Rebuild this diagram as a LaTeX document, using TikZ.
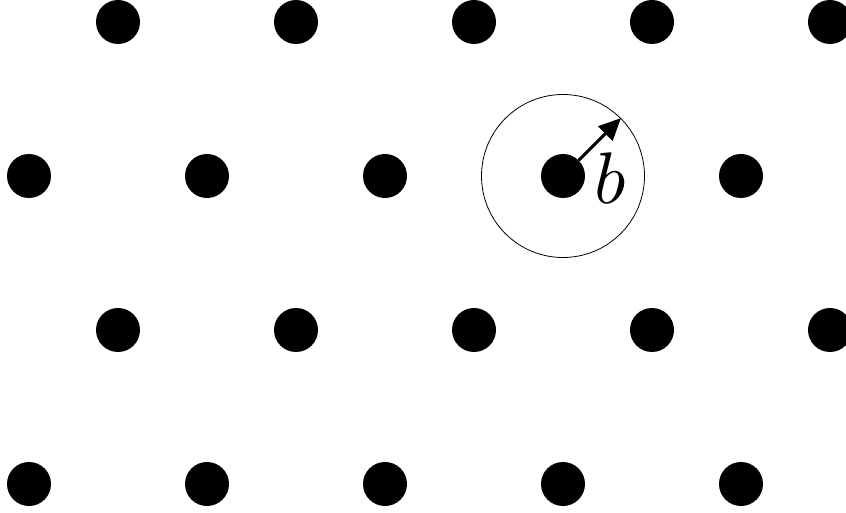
\documentclass[tikz,border=0pt]{standalone}
\usetikzlibrary{arrows.meta}
\begin{document}
\begin{tikzpicture}[x=1pt,y=1pt,
  dot/.style={circle,fill=black,inner sep=0pt,minimum size=44pt}]
\useasboundingbox (0,0) rectangle (846,512);
% rows (image y -> tikz y = 512 - y)
\foreach \i/\x in {1/118,2/296,3/474,4/652,5/830} {
  \node[dot] (a\i) at (\x,490) {};
  \node[dot] (c\i) at (\x,182) {};
}
\foreach \i/\x in {1/29,2/207,3/385,4/563,5/741} {
  \node[dot] (b\i) at (\x,336) {};
  \node[dot] (d\i) at (\x,28) {};
}
\node[draw,circle,line width=0.8pt,minimum size=163pt,inner sep=0pt] (ring) at (b4) {};
\coordinate (tip) at (ring.45);
\draw[line width=3pt,-{Stealth[length=22pt,width=20pt,inset=0pt]}] (b4.45) -- (tip);
\node[scale=7.3,inner sep=0pt] (lbl) at (610,334) {$b$};
\end{tikzpicture}
\end{document}
